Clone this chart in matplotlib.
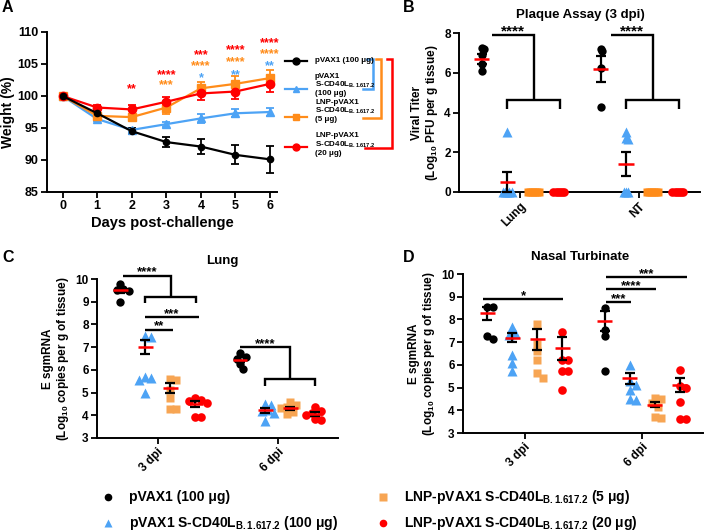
import numpy as np
import matplotlib
matplotlib.use("Agg")
import matplotlib.pyplot as plt

plt.rcParams["font.family"] = ["Liberation Sans", "DejaVu Sans"]
plt.rcParams["font.weight"] = "bold"
plt.rcParams["axes.labelweight"] = "bold"
plt.rcParams["mathtext.fontset"] = "custom"
plt.rcParams["mathtext.rm"] = "Liberation Sans:bold"
plt.rcParams["mathtext.it"] = "Liberation Sans:bold"
plt.rcParams["mathtext.bf"] = "Liberation Sans:bold"
plt.rcParams["mathtext.default"] = "rm"

BLACK = "#000000"
BLUE = "#4DA3F5"
ORANGE = "#FF8C1A"
ORANGE_L = "#F7A553"
RED = "#FF0000"

# ---------------- A: body weight after challenge
days = [0, 1, 2, 3, 4, 5, 6]
w_pvax = [100, 97.3, 94.5, 92.8, 92.1, 90.8, 90.1]
e_pvax = [0.1, 0.5, 0.5, 0.8, 1.2, 1.5, 2.1]
w_s100 = [100, 96.4, 94.7, 95.6, 96.5, 97.3, 97.5]
e_s100 = [0.1, 0.3, 0.3, 0.4, 0.7, 0.6, 0.7]
w_lnp5 = [100, 96.9, 96.7, 98.2, 101.2, 101.9, 102.8]
e_lnp5 = [0.1, 0.3, 0.5, 1.0, 1.0, 1.2, 1.2]
w_lnp20 = [100, 98.2, 97.9, 99.1, 100.4, 100.7, 101.9]
e_lnp20 = [0.1, 0.4, 0.7, 0.7, 1.1, 1.2, 1.2]

# significance marks in A: day, label, colour, height
a_stars = [
    (2, "**", RED, 101.8),
    (3, "****", RED, 103.9), (3, "***", ORANGE, 102.3),
    (4, "***", RED, 107.1), (4, "****", ORANGE, 105.4), (4, "*", BLUE, 103.5),
    (5, "****", RED, 107.8), (5, "****", ORANGE, 106.0), (5, "**", BLUE, 104.0),
    (6, "****", RED, 108.9), (6, "****", ORANGE, 107.2), (6, "**", BLUE, 105.3),
]

# ---------------- B: plaque assay (groups: pVAX1, S100, LNP5, LNP20)
b_tissues = ["Lung", "NT"]
b_points = [
    [[7.25, 7.2, 6.9, 6.45, 6.1], [3.0, 0, 0, 0, 0, 0], [0] * 6, [0] * 6],
    [[7.1, 7.2, 6.25, 4.3], [2.7, 2.65, 3.0, 0, 0, 0], [0] * 6, [0] * 6],
]
b_mean = [[6.7, 0.5, 0, 0], [6.2, 1.4, 0, 0]]
b_sem = [[0.25, 0.5, 0, 0], [0.65, 0.62, 0, 0]]

# ---------------- C: lung E sgmRNA
c_days = ["3 dpi", "6 dpi"]
c_points = [
    [[9.8, 9.55, 9.5, 9.45, 9.0],
     [7.45, 7.47, 5.7, 5.65, 5.55, 5.0],
     [5.55, 5.6, 5.1, 4.75, 4.27, 4.27],
     [4.75, 4.68, 4.62, 4.55, 3.92, 3.92]],
    [[6.75, 6.57, 6.5, 6.27, 6.04],
     [4.49, 4.47, 4.24, 4.2, 4.12, 3.75],
     [4.6, 4.45, 4.35, 4.3, 4.15, 4.05],
     [4.35, 4.2, 4.1, 4.0, 3.85, 3.8]],
]
c_mean = [[9.5, 7.0, 5.2, 4.5], [6.45, 4.22, 4.3, 4.05]]
c_sem = [[0.12, 0.3, 0.2, 0.12], [0.12, 0.1, 0.08, 0.08]]

# ---------------- D: nasal turbinate E sgmRNA
d_days = ["3 dpi", "6 dpi"]
d_points = [
    [[8.56, 8.56, 7.25, 7.12],
     [7.65, 7.4, 7.3, 6.45, 6.1, 5.75],
     [7.82, 6.9, 6.6, 6.2, 5.62, 5.4],
     [7.46, 6.2, 6.2, 5.74, 5.74, 4.91]],
    [[8.49, 7.53, 7.26, 5.74],
     [6.0, 5.3, 5.1, 4.9, 4.5, 4.45],
     [4.55, 4.5, 4.3, 4.15, 3.7, 3.65],
     [5.76, 5.05, 5.0, 4.35, 3.6, 3.6]],
]
d_mean = [[8.27, 7.2, 7.12, 6.73], [7.94, 5.4, 4.25, 5.12]]
d_sem = [[0.28, 0.2, 0.45, 0.5], [0.45, 0.25, 0.1, 0.3]]

SUB = r"$_{B.1.617.2}$"
legend_labels = [
    "pVAX1 (100 μg)",
    "pVAX1 S-CD40L" + SUB + " (100 μg)",
    "LNP-pVAX1 S-CD40L" + SUB + " (5 μg)",
    "LNP-pVAX1 S-CD40L" + SUB + " (20 μg)",
]
MARKERS = ["o", "^", "s", "o"]
MS = [6, 6.5, 5.8, 6.2]

W, H = 704, 532
fig = plt.figure(figsize=(W / 100, H / 100), dpi=100)


def px_axes(l, t, r, b):
    return fig.add_axes([l / W, 1 - b / H, (r - l) / W, (b - t) / H])


def style(ax, fs=8.5):
    for s in ["top", "right"]:
        ax.spines[s].set_visible(False)
    for s in ["left", "bottom"]:
        ax.spines[s].set_linewidth(1.4)
    ax.tick_params(width=1.3, length=4, labelsize=fs, pad=2)


def swarm(vals, d_px, xpx, ypx):
    vals = np.asarray(vals, float)
    res = np.zeros(len(vals))
    placed = []
    for i in np.argsort(-vals, kind="stable"):
        y = vals[i] * ypx
        for k in range(60):
            cand = ((k + 1) // 2) * (d_px / 2) * (1 if k % 2 else -1)
            if all(np.hypot(cand - px, y - py) >= d_px for px, py in placed):
                break
        placed.append((cand, y))
        res[i] = cand / xpx
    return res


def dot_panel(ax, pts, means, sems, bases, xpx, ypx, d_px, cols):
    for gi, base in enumerate(bases):
        for k in range(4):
            x0 = base + k
            vals = np.asarray(pts[gi][k], float)
            off = swarm(vals, d_px, xpx, ypx)
            ax.plot(x0 + off, vals, ls="none", marker=MARKERS[k], ms=MS[k],
                    color=cols[k], mec="none", clip_on=False, zorder=3)
            m, s = means[gi][k], sems[gi][k]
            if s > 0:
                ax.errorbar(x0, m, yerr=s, fmt="none", ecolor=BLACK, elinewidth=1.6,
                            capsize=3.5, capthick=1.6, zorder=4, clip_on=False)
            if m > 0:
                ax.hlines(m, x0 - 0.3, x0 + 0.3, color=RED, lw=1.8, zorder=5)


def line(ax, xs, ys):
    ax.plot(xs, ys, color=BLACK, lw=1.7, clip_on=False, zorder=6,
            solid_joinstyle="miter", solid_capstyle="butt")


def split_bracket(ax, x0, xm, ytop, ybot, xb0, xb1, tick, label, fs):
    line(ax, [x0, xm, xm], [ytop, ytop, ybot])
    line(ax, [xb0, xb0, xb1, xb1], [ybot - tick, ybot, ybot, ybot - tick])
    ax.text((x0 + xm) / 2, ytop, label, ha="center", va="baseline", fontsize=fs)


def bar(ax, x0, x1, y, label, fs):
    line(ax, [x0, x1], [y, y])
    ax.text((x0 + x1) / 2, y, label, ha="center", va="baseline", fontsize=fs)


# ================= Panel A
axA = px_axes(47, 32, 277, 192)
style(axA, 9)
series = [
    (w_s100, e_s100, BLUE, "^", 6),
    (w_lnp5, e_lnp5, ORANGE, "s", 5.8),
    (w_lnp20, e_lnp20, RED, "o", 6),
    (w_pvax, e_pvax, BLACK, "o", 4.5),
]
for w, e, c, mk, ms in series:
    axA.errorbar(days, w, yerr=e, color=c, marker=mk, ms=ms, mec=c, lw=1.6,
                 elinewidth=1.3, capsize=3, capthick=1.3, clip_on=False)
for d, s, c, y in a_stars:
    axA.annotate(s, (d, y), xytext=(0, -5.3), textcoords="offset points",
                 ha="center", va="baseline", color=c, fontsize=9)
axA.set_xlim(-0.45, 6.2)
axA.set_ylim(85, 110)
axA.set_xticks(days)
axA.set_yticks([85, 90, 95, 100, 105, 110])
axA.set_xlabel("Days post-challenge", fontsize=10.5, labelpad=3)
axA.set_ylabel("Weight (%)", fontsize=10)
axA.yaxis.set_label_coords(-0.14, 0.5)

# ================= Panel B
axB = px_axes(459, 33, 700, 192)
style(axB, 8.5)
b_bases = [0, 4.7]
dot_panel(axB, b_points, b_mean, b_sem, b_bases, 25.3, 19.8, 2.2,
          [BLACK, BLUE, ORANGE, RED])
axB.set_xlim(-0.9, 8.62)
axB.set_ylim(0, 8)
axB.set_yticks([0, 2, 4, 6, 8])
axB.set_xticks([b + 1.5 for b in b_bases])
axB.set_xticklabels(b_tissues, rotation=45, ha="right", rotation_mode="anchor", fontsize=8.5)
axB.set_ylabel("Viral Titer\n(Log$_{10}$ PFU per g tissue)", fontsize=8.5, labelpad=3,
               linespacing=1.1)
for b in b_bases:
    split_bracket(axB, b + 0.4, b + 2.05, 7.9, 4.65, b + 1, b + 3.1, 0.45, "****", 11)

# ================= Panel C
axC = px_axes(97, 279, 338, 438)
style(axC, 8.5)
c_bases = [0, 4.8]
dot_panel(axC, c_points, c_mean, c_sem, c_bases, 25, 22.7, 6,
          [BLACK, BLUE, ORANGE_L, RED])
axC.set_xlim(-0.92, 8.72)
axC.set_ylim(3, 10)
axC.set_yticks(range(3, 11))
axC.set_xticks([b + 1.5 for b in c_bases])
axC.set_xticklabels(c_days, rotation=45, ha="right", rotation_mode="anchor", fontsize=8.5)
axC.set_ylabel("E sgmRNA\n(Log$_{10}$ copies per g of tissue)", fontsize=8.5, labelpad=3,
               linespacing=1.1)
split_bracket(axC, 0.12, 2.05, 10.15, 9.2, 1, 3.05, 0.27, "****", 9.5)
bar(axC, 1, 3.15, 8.33, "***", 9.5)
bar(axC, 1, 2.1, 7.77, "**", 9.5)
split_bracket(axC, 4.8, 6.8, 7.0, 5.58, 5.8, 7.8, 0.27, "****", 9.5)

# ================= Panel D
axD = px_axes(463, 274, 703, 433)
style(axD, 8.5)
d_bases = [0, 4.7]
dot_panel(axD, d_points, d_mean, d_sem, d_bases, 25, 22.7, 6,
          [BLACK, BLUE, ORANGE_L, RED])
axD.set_xlim(-0.96, 8.64)
axD.set_ylim(3, 10)
axD.set_yticks(range(3, 11))
axD.set_xticks([b + 1.5 for b in d_bases])
axD.set_xticklabels(d_days, rotation=45, ha="right", rotation_mode="anchor", fontsize=8.5)
axD.set_ylabel("E sgmRNA\n(Log$_{10}$ copies per g of tissue)", fontsize=8.5, labelpad=3,
               linespacing=1.1)
bar(axD, -0.15, 3.05, 8.91, "*", 9.5)
bar(axD, 4.75, 8.0, 9.85, "***", 9.5)
bar(axD, 4.75, 6.75, 9.34, "****", 9.5)
bar(axD, 4.75, 5.75, 8.78, "***", 9.5)

# ================= overlay: titles, letters, legends
ov = fig.add_axes([0, 0, 1, 1])
ov.set_xlim(0, W)
ov.set_ylim(H, 0)
ov.axis("off")

for s, x, y in [("A", 7, 8), ("B", 409, 8), ("C", 8, 258), ("D", 409, 258)]:
    ov.text(x, y, s, fontsize=11.5, ha="center", va="center")
ov.text(580, 15, "Plaque Assay (3 dpi)", fontsize=9.5, ha="center", va="center")
ov.text(222, 261, "Lung", fontsize=9.5, ha="center", va="center")
ov.text(580, 257, "Nasal Turbinate", fontsize=9.5, ha="center", va="center")

# legend of panel A
a_leg_cols = [BLACK, BLUE, ORANGE, RED]
a_leg_mk = ["o", "^", "s", "o"]
a_leg_txt = [
    "pVAX1 (100 μg)",
    "pVAX1\nS-CD40L" + SUB + "\n(100 μg)",
    "LNP-pVAX1\nS-CD40L" + SUB + "\n(5 μg)",
    "LNP-pVAX1\nS-CD40L" + SUB + "\n(20 μg)",
]
a_leg_y = [61, 89, 117, 147]
a_txt_y = [61, 85, 111, 144.5]
for c, mk, yl, yt, t in zip(a_leg_cols, a_leg_mk, a_leg_y, a_txt_y, a_leg_txt):
    ov.plot([285, 307], [yl, yl], color=c, lw=1.6)
    ov.plot([296], [yl], marker=mk, color=c, ms=5)
    ov.text(315, yt, t, fontsize=5.8, ha="left", va="center", linespacing=1.0)
for c, xt, xr, yb, xb in [(BLUE, 367, 373, 89, 363), (ORANGE, 376, 381, 118, 363),
                          (RED, 387, 392, 148, 365)]:
    ov.plot([xt, xr, xr, xb], [59, 59, yb, yb], color=c, lw=1.8,
            solid_joinstyle="miter")

# bottom legend
for (x, y), c, mk, t in zip([(108, 497), (108, 523), (383, 497), (383, 523)],
                            [BLACK, BLUE, ORANGE_L, RED], MARKERS, legend_labels):
    ov.plot([x], [y], marker=mk, color=c, ms=5.5, mec="none")
    ov.text(x + 21, y, t, fontsize=10, ha="left", va="center")

fig.savefig("out.png", dpi=100)
